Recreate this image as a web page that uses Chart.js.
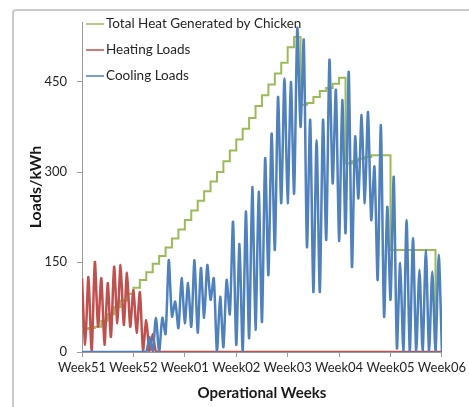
<!DOCTYPE html>
<html><head><meta charset="utf-8">
<script src="https://cdn.jsdelivr.net/npm/chart.js@4.4.1/dist/chart.umd.min.js"></script>
<style>
html,body{margin:0;padding:0;background:#fff;overflow:hidden}
#wrap{position:relative;width:469px;height:407px;overflow:hidden}
#frame{position:absolute;left:12px;top:9px;width:600px;height:600px;border:2px solid #cacaca;border-radius:4px;box-sizing:border-box}
#c{position:absolute;left:0;top:0}
</style></head><body>
<div id="wrap"><div id="frame"></div><canvas id="c" width="469" height="407"></canvas></div>
<script>
const weekLabels = ['Week51','Week52','Week01','Week02','Week03','Week04','Week05','Week06'];
const yTickValues = [0, 150, 300, 450];
const samplesPerWeek = 16;      // load samples (half daily cycles) per week
const heatStepsPerWeek = 8;     // steps of the chicken-heat staircase per week

const heatingLoads = [
  123, 12, 125, 0, 150, 42, 123, 12, 115, 25, 142, 48, 145, 45, 132, 42,
  103, 32, 100, 3, 53, 0, 30, 0, 0, 0, 0, 0, 0, 0, 0, 0,
  0, 0, 0, 0, 0, 0, 0, 0, 0, 0, 0, 0, 0, 0, 0, 0,
  0, 0, 0, 0, 0, 0, 0, 0, 0, 0, 0, 0, 0, 0, 0, 0,
  0, 0, 0, 0, 0, 0, 0, 0, 0, 0, 0, 0, 0, 0, 0, 0,
  0, 0, 0, 0, 0, 0, 0, 0, 0, 0, 0, 0, 0, 0, 0, 0,
  0, 0, 0, 0, 0, 0, 0, 0, 0, 0, 0, 0, 0, 0, 0, 0,
  0
];
const coolingLoads = [
  0, 0, 0, 0, 0, 0, 0, 0, 0, 0, 0, 0, 0, 0, 0, 0,
  0, 0, 0, 0, 0, 25, 0, 57, 0, 57, 30, 153, 59, 84, 40, 123,
  48, 115, 42, 153, 32, 140, 57, 145, 87, 123, 0, 92, 8, 120, 63, 217,
  12, 180, 0, 234, 23, 275, 37, 267, 50, 323, 128, 364, 170, 425, 248, 456,
  248, 450, 264, 540, 375, 520, 175, 387, 100, 353, 100, 387, 187, 487, 281, 437,
  185, 420, 198, 467, 142, 359, 256, 395, 248, 400, 220, 309, 120, 378, 59, 242,
  87, 292, 6, 148, 0, 220, 0, 190, 0, 137, 0, 170, 0, 134, 0, 162,
  0
];
const chickenHeat = [
  38, 38, 40, 42, 52, 63, 75, 86, 97, 107, 120, 133, 147, 160, 174, 189,
  204, 220, 236, 252, 268, 284, 300, 318, 336, 354, 372, 390, 410, 428, 446, 464,
  482, 508, 525, 412, 415, 425, 435, 440, 447, 457, 314, 318, 322, 325, 328, 328,
  328, 170, 170, 170, 170, 170, 170, 170, 0
];

const toPoints = (arr, perWeek) => arr.map((v, i) => ({x: i / perWeek, y: v}));

const FONT = 'Lato, "Open Sans", sans-serif';

const legendPlugin = {
  id: 'insideLegend',
  afterDraw(chart) {
    const ctx = chart.ctx;
    const rows = [24, 50, 76];
    ctx.save();
    ctx.font = '13.5px ' + FONT;
    ctx.textBaseline = 'middle';
    ctx.textAlign = 'left';
    chart.data.datasets.forEach((ds, i) => {
      const y = rows[i];
      ctx.strokeStyle = ds.borderColor;
      ctx.lineWidth = 1.5;
      ctx.beginPath();
      ctx.moveTo(86, y);
      ctx.lineTo(104, y);
      ctx.stroke();
      ctx.fillStyle = '#262626';
      ctx.fillText(ds.label, 106, y);
    });
    ctx.restore();
  }
};

new Chart(document.getElementById('c'), {
  type: 'line',
  data: {
    datasets: [
      {label: 'Total Heat Generated by Chicken', data: toPoints(chickenHeat, heatStepsPerWeek),
       borderColor: '#9BBB59', borderWidth: 2, stepped: 'after', pointRadius: 0, order: 2},
      {label: 'Heating Loads', data: toPoints(heatingLoads, samplesPerWeek),
       borderColor: '#C0504D', borderWidth: 2.5, tension: 0.25, pointRadius: 0, order: 1},
      {label: 'Cooling Loads', data: toPoints(coolingLoads, samplesPerWeek),
       borderColor: '#4F81BD', borderWidth: 2.5, tension: 0.25, pointRadius: 0, order: 0}
    ]
  },
  options: {
    responsive: false,
    animation: false,
    layout: {padding: {left: 0, top: 22, right: 27, bottom: 0}},
    plugins: {legend: {display: false}, tooltip: {enabled: false}},
    scales: {
      x: {
        type: 'linear', min: 0, max: weekLabels.length - 1,
        afterBuildTicks: s => { s.ticks = weekLabels.map((_, i) => ({value: i})); },
        afterFit: s => { s.height = 55; },
        ticks: {callback: (v, i) => weekLabels[i], color: '#262626', font: {family: FONT, size: 13},
                padding: 3, maxRotation: 0, autoSkip: false},
        grid: {drawOnChartArea: false, tickLength: 5, color: '#9a9a9a'},
        border: {color: '#9a9a9a', width: 1},
        title: {display: true, text: 'Operational Weeks', color: '#1a1a1a',
                font: {family: FONT, size: 15, weight: 'bold'}, padding: {top: 0, bottom: 5}}
      },
      y: {
        min: 0, max: 550,
        afterBuildTicks: s => { s.ticks = yTickValues.map(v => ({value: v})); },
        afterFit: s => { s.width = 82; },
        ticks: {color: '#262626', font: {family: FONT, size: 13}, padding: 10},
        grid: {drawOnChartArea: false, tickLength: 5, color: '#9a9a9a'},
        border: {color: '#9a9a9a', width: 1},
        title: {display: true, text: 'Loads/kWh', color: '#1a1a1a',
                font: {family: FONT, size: 16, weight: 'bold'}, padding: {top: 26, bottom: 0}}
      }
    }
  },
  plugins: [legendPlugin]
});
</script>
</body></html>
